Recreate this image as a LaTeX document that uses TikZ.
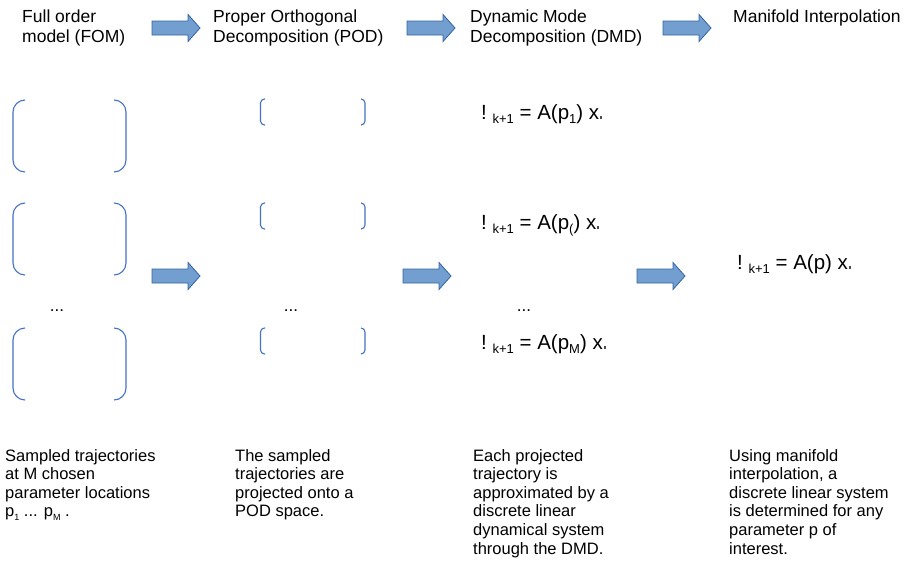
\documentclass[tikz,border=0pt]{standalone}
\usepackage{fontspec}
\setmainfont{Liberation Sans}
\definecolor{bracketblue}{HTML}{4472C4}
\definecolor{arrowfill}{HTML}{729FCF}
\definecolor{arrowline}{HTML}{3465A4}
\tikzset{
  heading/.style={anchor=north west, inner sep=0pt, align=left, font=\fontsize{17.5}{20}\selectfont},
  caption/.style={anchor=north west, inner sep=0pt, align=left, font=\fontsize{16.5}{18.6}\selectfont},
  formula/.style={anchor=base west, inner sep=0pt, font=\fontsize{20.5}{24}\selectfont},
  dots/.style={anchor=base, inner sep=0pt, font=\fontsize{17}{20}\selectfont},
  bracket/.style={draw=bracketblue, line width=1.1pt},
  blockarrow/.style={fill=arrowfill, draw=arrowline, line width=0.8pt},
}
\newcommand{\lowsub}[1]{\raisebox{-4pt}{\fontsize{13}{13}\selectfont #1}}
\newcommand{\capsub}[1]{\raisebox{-3.5pt}{\fontsize{9}{9}\selectfont #1}}
\newcommand{\glyphbox}{\kern1pt{\color{black!70}\rule{2.2pt}{2.6pt}}}
\newcommand{\dmdeq}[1]{!\ \lowsub{k+1} = A(p#1) x\glyphbox}
\newcommand{\blockarrow}[2]{%
  \draw[blockarrow] (#1,#2-7) -- ++(36,0) -- ++(0,-6.5) -- (#1+48,#2)
    -- (#1+36,#2+13.5) -- ++(0,-6.5) -- (#1,#2+7) -- cycle;}
\begin{document}
\begin{tikzpicture}[x=1pt, y=-1pt]
\useasboundingbox (0,0) rectangle (913,560);
%%%%% Headings %%%%%
\node[heading] (fom) at (22,9.5) {Full order\\model (FOM)};
\node[heading] (pod) at (213,9.5) {Proper Orthogonal\\Decomposition (POD)};
\node[heading] (dmd) at (470,9.5) {Dynamic Mode\\Decomposition (DMD)};
\node[heading] (mi) at (733,9.5) {Manifold Interpolation};
\foreach \ax in {152,407,663}{
\blockarrow{\ax}{28}
}
%%%%% Trajectories %%%%%
\foreach \t in {100,203,328}{
\draw[bracket, rounded corners=12pt] (25,\t) -- (13,\t) -- (13,\t+72) -- (25,\t+72);
\draw[bracket, rounded corners=12pt] (114,\t) -- (126,\t) -- (126,\t+72) -- (114,\t+72);
}
\node[dots] (fomdots) at (57,311) {...};
%%%%% POD space %%%%%
\foreach \t in {99,203,328}{
\draw[bracket, rounded corners=4pt] (265,\t) -- (260.5,\t) -- (260.5,\t+26) -- (265,\t+26);
\draw[bracket, rounded corners=4pt] (361,\t) -- (365,\t) -- (365,\t+26) -- (361,\t+26);
}
\node[dots] (poddots) at (291,311) {...};
%%%%% DMD systems %%%%%
\node[formula] (dmdone) at (481,119) {\dmdeq{\lowsub{1}}};
\node[formula] (dmdmid) at (481,229) {\dmdeq{\lowsub{(}}};
\node[formula] (dmdlast) at (481,349) {\dmdeq{\lowsub{M}}};
\node[dots] (dmddots) at (524,311) {...};
\node[formula] (mieq) at (737,269) {\dmdeq{}};
\foreach \ax in {152,403,637}{
\blockarrow{\ax}{276}
}
%%%%% Captions %%%%%
\node[caption] (fomtext) at (5,449) {Sampled trajectories\\at M chosen\\parameter locations\\p\capsub{1} ... p\capsub{M} .};
\node[caption] (podtext) at (235,449) {The sampled\\trajectories are\\projected onto a\\POD space.};
\node[caption] (dmdtext) at (473,449) {Each projected\\trajectory is\\approximated by a\\discrete linear\\dynamical system\\through the DMD.};
\node[caption] (mitext) at (729,449) {Using manifold\\interpolation, a\\discrete linear system\\is determined for any\\parameter p of\\interest.};
\end{tikzpicture}
\end{document}
